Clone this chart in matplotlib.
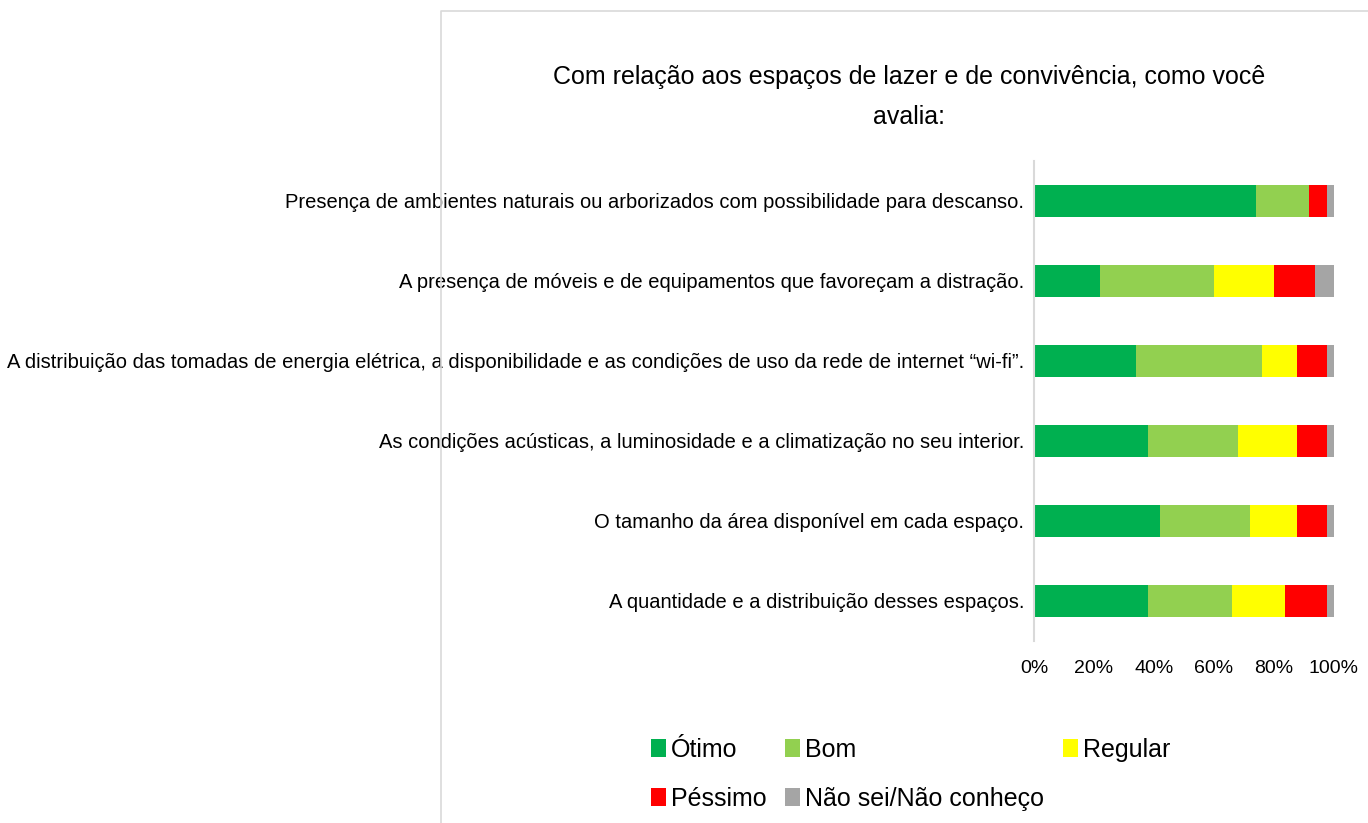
import matplotlib
matplotlib.use("Agg")
import matplotlib.pyplot as plt
from matplotlib.patches import Patch
from matplotlib.lines import Line2D
from matplotlib.ticker import PercentFormatter

plt.rcParams['font.family'] = ['Liberation Sans', 'DejaVu Sans']

categories = [
    "Presença de ambientes naturais ou arborizados com possibilidade para descanso.",
    "A presença de móveis e de equipamentos que favoreçam a distração.",
    "A distribuição das tomadas de energia elétrica, a disponibilidade e as condições de uso da rede de internet “wi-fi”.",
    "As condições acústicas, a luminosidade e a climatização no seu interior.",
    "O tamanho da área disponível em cada espaço.",
    "A quantidade e a distribuição desses espaços.",
]
series_names = ["Ótimo", "Bom", "Regular", "Péssimo", "Não sei/Não conheço"]
otimo = [74.0, 22.0, 34.0, 38.0, 42.0, 38.0]
bom = [17.7, 38.0, 42.0, 30.0, 30.0, 28.0]
regular = [0.0, 20.0, 11.7, 19.7, 15.7, 17.7]
pessimo = [6.0, 13.7, 10.0, 10.0, 10.0, 14.0]
nao_sei = [2.3, 6.3, 2.3, 2.3, 2.3, 2.3]
colors = ["#00b050", "#92d050", "#ffff00", "#ff0000", "#a5a5a5"]

title = "Com relação aos espaços de lazer e de convivência, como você\navalia:"

fig = plt.figure(figsize=(13.68, 8.23), dpi=100)
ax = fig.add_axes([1034 / 1368, 1 - 641 / 823, 300 / 1368, 480 / 823])

series = [otimo, bom, regular, pessimo, nao_sei]
y = list(range(len(categories)))
left = [0.0] * len(categories)
handles = []
for name, vals, c in zip(series_names, series, colors):
    ax.barh(y, vals, left=left, height=0.41, color=c, label=name)
    left = [l + v for l, v in zip(left, vals)]
    handles.append(Patch(facecolor=c, label=name))

ax.set_ylim(len(categories) - 0.5, -0.5)
ax.set_xlim(0, 100)
ax.set_yticks(y)
ax.set_yticklabels(categories, fontsize=14.5)
ax.set_xticks([0, 20, 40, 60, 80, 100])
ax.xaxis.set_major_formatter(PercentFormatter(decimals=0))
ax.tick_params(axis='x', length=0, labelsize=14, pad=14)
ax.tick_params(axis='y', length=0, pad=7)
for s in ['top', 'right', 'bottom']:
    ax.spines[s].set_visible(False)
ax.spines['left'].set_color('#d9d9d9')
ax.spines['left'].set_linewidth(1.5)

fig.text(909 / 1368, 1 - 97 / 823, title, ha='center', va='center',
         fontsize=18, linespacing=1.8)

# chart frame
fx = 441 / 1368
fy = 1 - 11 / 823
fig.add_artist(Line2D([fx, fx, 1.0], [0.0, fy, fy], color='#d9d9d9', lw=1.2,
                      transform=fig.transFigure))

order = [0, 3, 1, 4, 2]
leg = fig.legend([handles[i] for i in order], [series_names[i] for i in order],
                 ncol=3, loc='upper left', bbox_to_anchor=(651 / 1368, 1 - 738 / 823),
                 frameon=False, fontsize=18, handlelength=0.6, handleheight=0.75,
                 handletextpad=0.2, columnspacing=0.75, labelspacing=1.0,
                 borderpad=0, borderaxespad=0)

fig.savefig("out.png", dpi=100)
